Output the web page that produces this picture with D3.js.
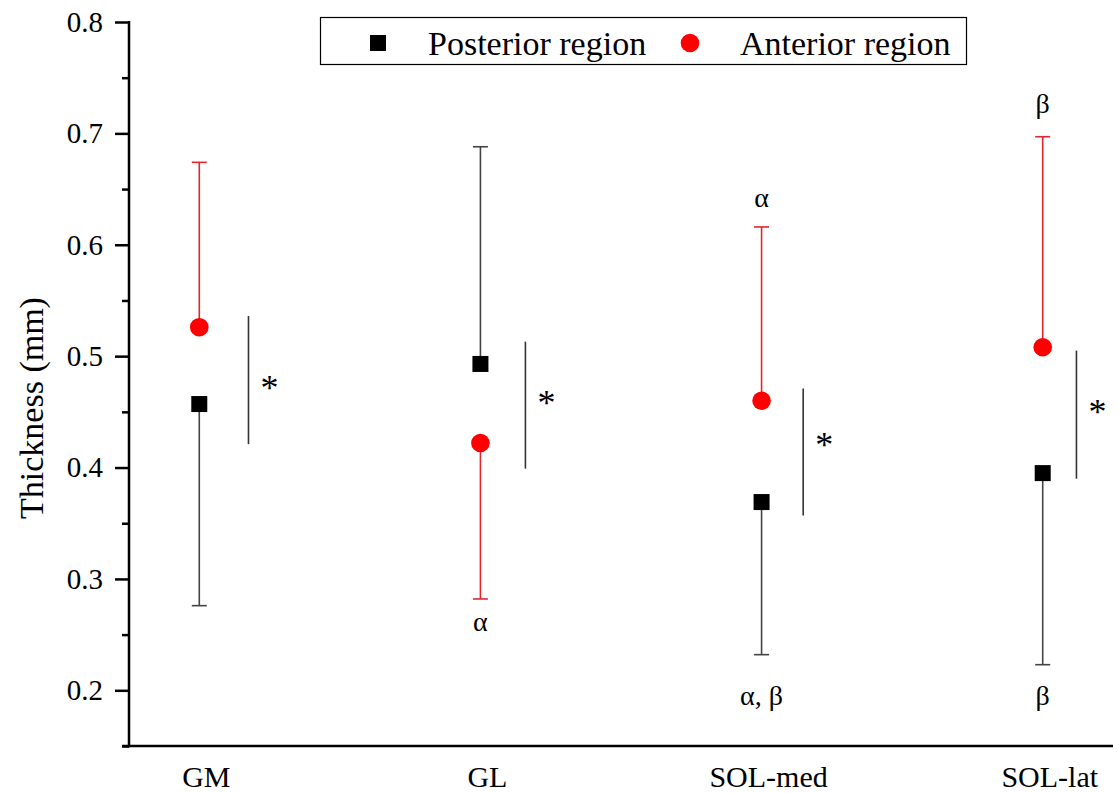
<!DOCTYPE html>
<html>
<head>
<meta charset="utf-8">
<script src="https://cdn.jsdelivr.net/npm/d3@7"></script>
<style>
    body { margin: 0; background: #fff; }
    svg text { font-family: 'Liberation Serif', 'Times New Roman', serif; fill: #000; }
</style>
</head>
<body>
<div id="chart"></div>
<script>
// categories and series (thickness, mm)
const categories = ['GM', 'GL', 'SOL-med', 'SOL-lat'];
const posteriorMean = [0.457, 0.493, 0.369, 0.395];
const posteriorErrEnd = [0.276, 0.688, 0.232, 0.223];
const anteriorMean = [0.526, 0.422, 0.460, 0.508];
const anteriorErrEnd = [0.674, 0.282, 0.616, 0.697];

// significance bars: low / high end, star centre, shift right of category (category units)
const sigLow = [0.421, 0.399, 0.357, 0.390];
const sigHigh = [0.536, 0.513, 0.471, 0.505];
const sigStar = [0.476, 0.462, 0.425, 0.454];
const sigShift = [0.175, 0.16, 0.148, 0.12];

// greek annotations
const greekText = ['α', 'α', 'α, β', 'β', 'β'];
const greekCat = [1, 2, 2, 3, 3];
const greekValue = [0.253, 0.634, 0.187, 0.718, 0.187];

const yTicks = [0.2, 0.3, 0.4, 0.5, 0.6, 0.7, 0.8];
const yMinorTicks = [0.15, 0.25, 0.35, 0.45, 0.55, 0.65, 0.75];

const width = 1119, height = 793;
const margin = { left: 129, top: 22, right: 6, bottom: 47 };

const svg = d3.select('#chart').append('svg')
    .attr('width', width)
    .attr('height', height);

const x = d3.scaleLinear()
    .domain([-0.25, 3.25])
    .range([margin.left, width - margin.right]);
const y = d3.scaleLinear()
    .domain([0.15, 0.8])
    .range([height - margin.bottom, margin.top]);

// y axis with major and minor ticks
const yAxis = svg.append('g')
    .attr('transform', `translate(${margin.left},0)`)
    .call(d3.axisLeft(y).tickValues(yTicks).tickSize(14).tickPadding(12).tickFormat(d3.format('.1f')));
yAxis.select('.domain').remove();
yAxis.selectAll('.tick line').attr('stroke', '#000').attr('stroke-width', 2.5);
yAxis.selectAll('.tick text').attr('font-size', 29).attr('font-family', "'Liberation Serif', serif");

const yMinor = svg.append('g')
    .attr('transform', `translate(${margin.left},0)`)
    .call(d3.axisLeft(y).tickValues(yMinorTicks).tickSize(7).tickFormat(''));
yMinor.select('.domain').remove();
yMinor.selectAll('.tick line').attr('stroke', '#000').attr('stroke-width', 2.5);

svg.append('line')
    .attr('x1', margin.left).attr('x2', margin.left)
    .attr('y1', y(0.8) - 1).attr('y2', y(0.15) + 1.25)
    .attr('stroke', '#000').attr('stroke-width', 2.5);
svg.append('line')
    .attr('x1', margin.left - 7).attr('x2', width - margin.right)
    .attr('y1', y(0.15)).attr('y2', y(0.15))
    .attr('stroke', '#000').attr('stroke-width', 2.5);

// category labels
svg.append('g')
    .selectAll('text').data(categories)
    .enter()
    .append('text')
    .attr('x', (d, i) => x(i + 0.025))
    .attr('y', height - 6)
    .attr('text-anchor', 'middle')
    .attr('font-size', 30)
    .text(d => d);

// axis title
svg.append('text')
    .attr('transform', `translate(43,${(y(0.8) + y(0.15)) / 2 + 24}) rotate(-90)`)
    .attr('text-anchor', 'middle')
    .attr('font-size', 34)
    .text('Thickness (mm)');

// error bars
const capHalf = 7.5;
function errorBars(means, ends, color) {
    const g = svg.append('g');
    g.selectAll('line.err').data(means)
        .enter()
        .append('line')
        .attr('class', 'err')
        .attr('x1', (d, i) => x(i)).attr('x2', (d, i) => x(i))
        .attr('y1', d => y(d)).attr('y2', (d, i) => y(ends[i]))
        .attr('stroke', color).attr('stroke-width', 1.6);
    g.selectAll('line.cap').data(ends)
        .enter()
        .append('line')
        .attr('class', 'cap')
        .attr('x1', (d, i) => x(i) - capHalf).attr('x2', (d, i) => x(i) + capHalf)
        .attr('y1', d => y(d)).attr('y2', d => y(d))
        .attr('stroke', color).attr('stroke-width', 1.6);
}
errorBars(posteriorMean, posteriorErrEnd, '#444');
errorBars(anteriorMean, anteriorErrEnd, '#e3262b');

// markers
const sq = 16, dotRadius = 9.3;
svg.append('g')
    .selectAll('rect').data(posteriorMean)
    .enter()
    .append('rect')
    .attr('x', (d, i) => x(i) - sq / 2)
    .attr('y', d => y(d) - sq / 2)
    .attr('width', sq).attr('height', sq)
    .attr('fill', '#000');
svg.append('g')
    .selectAll('circle').data(anteriorMean)
    .enter()
    .append('circle')
    .attr('cx', (d, i) => x(i))
    .attr('cy', d => y(d))
    .attr('r', dotRadius)
    .attr('fill', '#ff0000');

// significance bars and stars
svg.append('g')
    .selectAll('line').data(sigLow)
    .enter()
    .append('line')
    .attr('x1', (d, i) => x(i + sigShift[i])).attr('x2', (d, i) => x(i + sigShift[i]))
    .attr('y1', d => y(d)).attr('y2', (d, i) => y(sigHigh[i]))
    .attr('stroke', '#333').attr('stroke-width', 1.6);
svg.append('g')
    .selectAll('text').data(sigStar)
    .enter()
    .append('text')
    .attr('x', (d, i) => x(i + sigShift[i]) + 21)
    .attr('y', d => y(d))
    .attr('dy', '0.47em')
    .attr('text-anchor', 'middle')
    .attr('font-size', 36)
    .text('*');

// greek letters
svg.append('g')
    .selectAll('text').data(greekText)
    .enter()
    .append('text')
    .attr('x', (d, i) => x(greekCat[i]))
    .attr('y', (d, i) => y(greekValue[i]))
    .attr('text-anchor', 'middle')
    .attr('font-size', 28)
    .text(d => d);

// legend
const legend = svg.append('g');
legend.append('rect')
    .attr('x', 320.5).attr('y', 17.5)
    .attr('width', 646).attr('height', 47)
    .attr('fill', '#fff').attr('stroke', '#000').attr('stroke-width', 1.2);
legend.append('rect')
    .attr('x', 370).attr('y', 35)
    .attr('width', sq).attr('height', sq)
    .attr('fill', '#000');
legend.append('text')
    .attr('x', 428).attr('y', 55)
    .attr('font-size', 34)
    .text('Posterior region');
legend.append('circle')
    .attr('cx', 690).attr('cy', 43)
    .attr('r', dotRadius)
    .attr('fill', '#ff0000');
legend.append('text')
    .attr('x', 740).attr('y', 55)
    .attr('font-size', 34)
    .text('Anterior region');
</script>
</body>
</html>
